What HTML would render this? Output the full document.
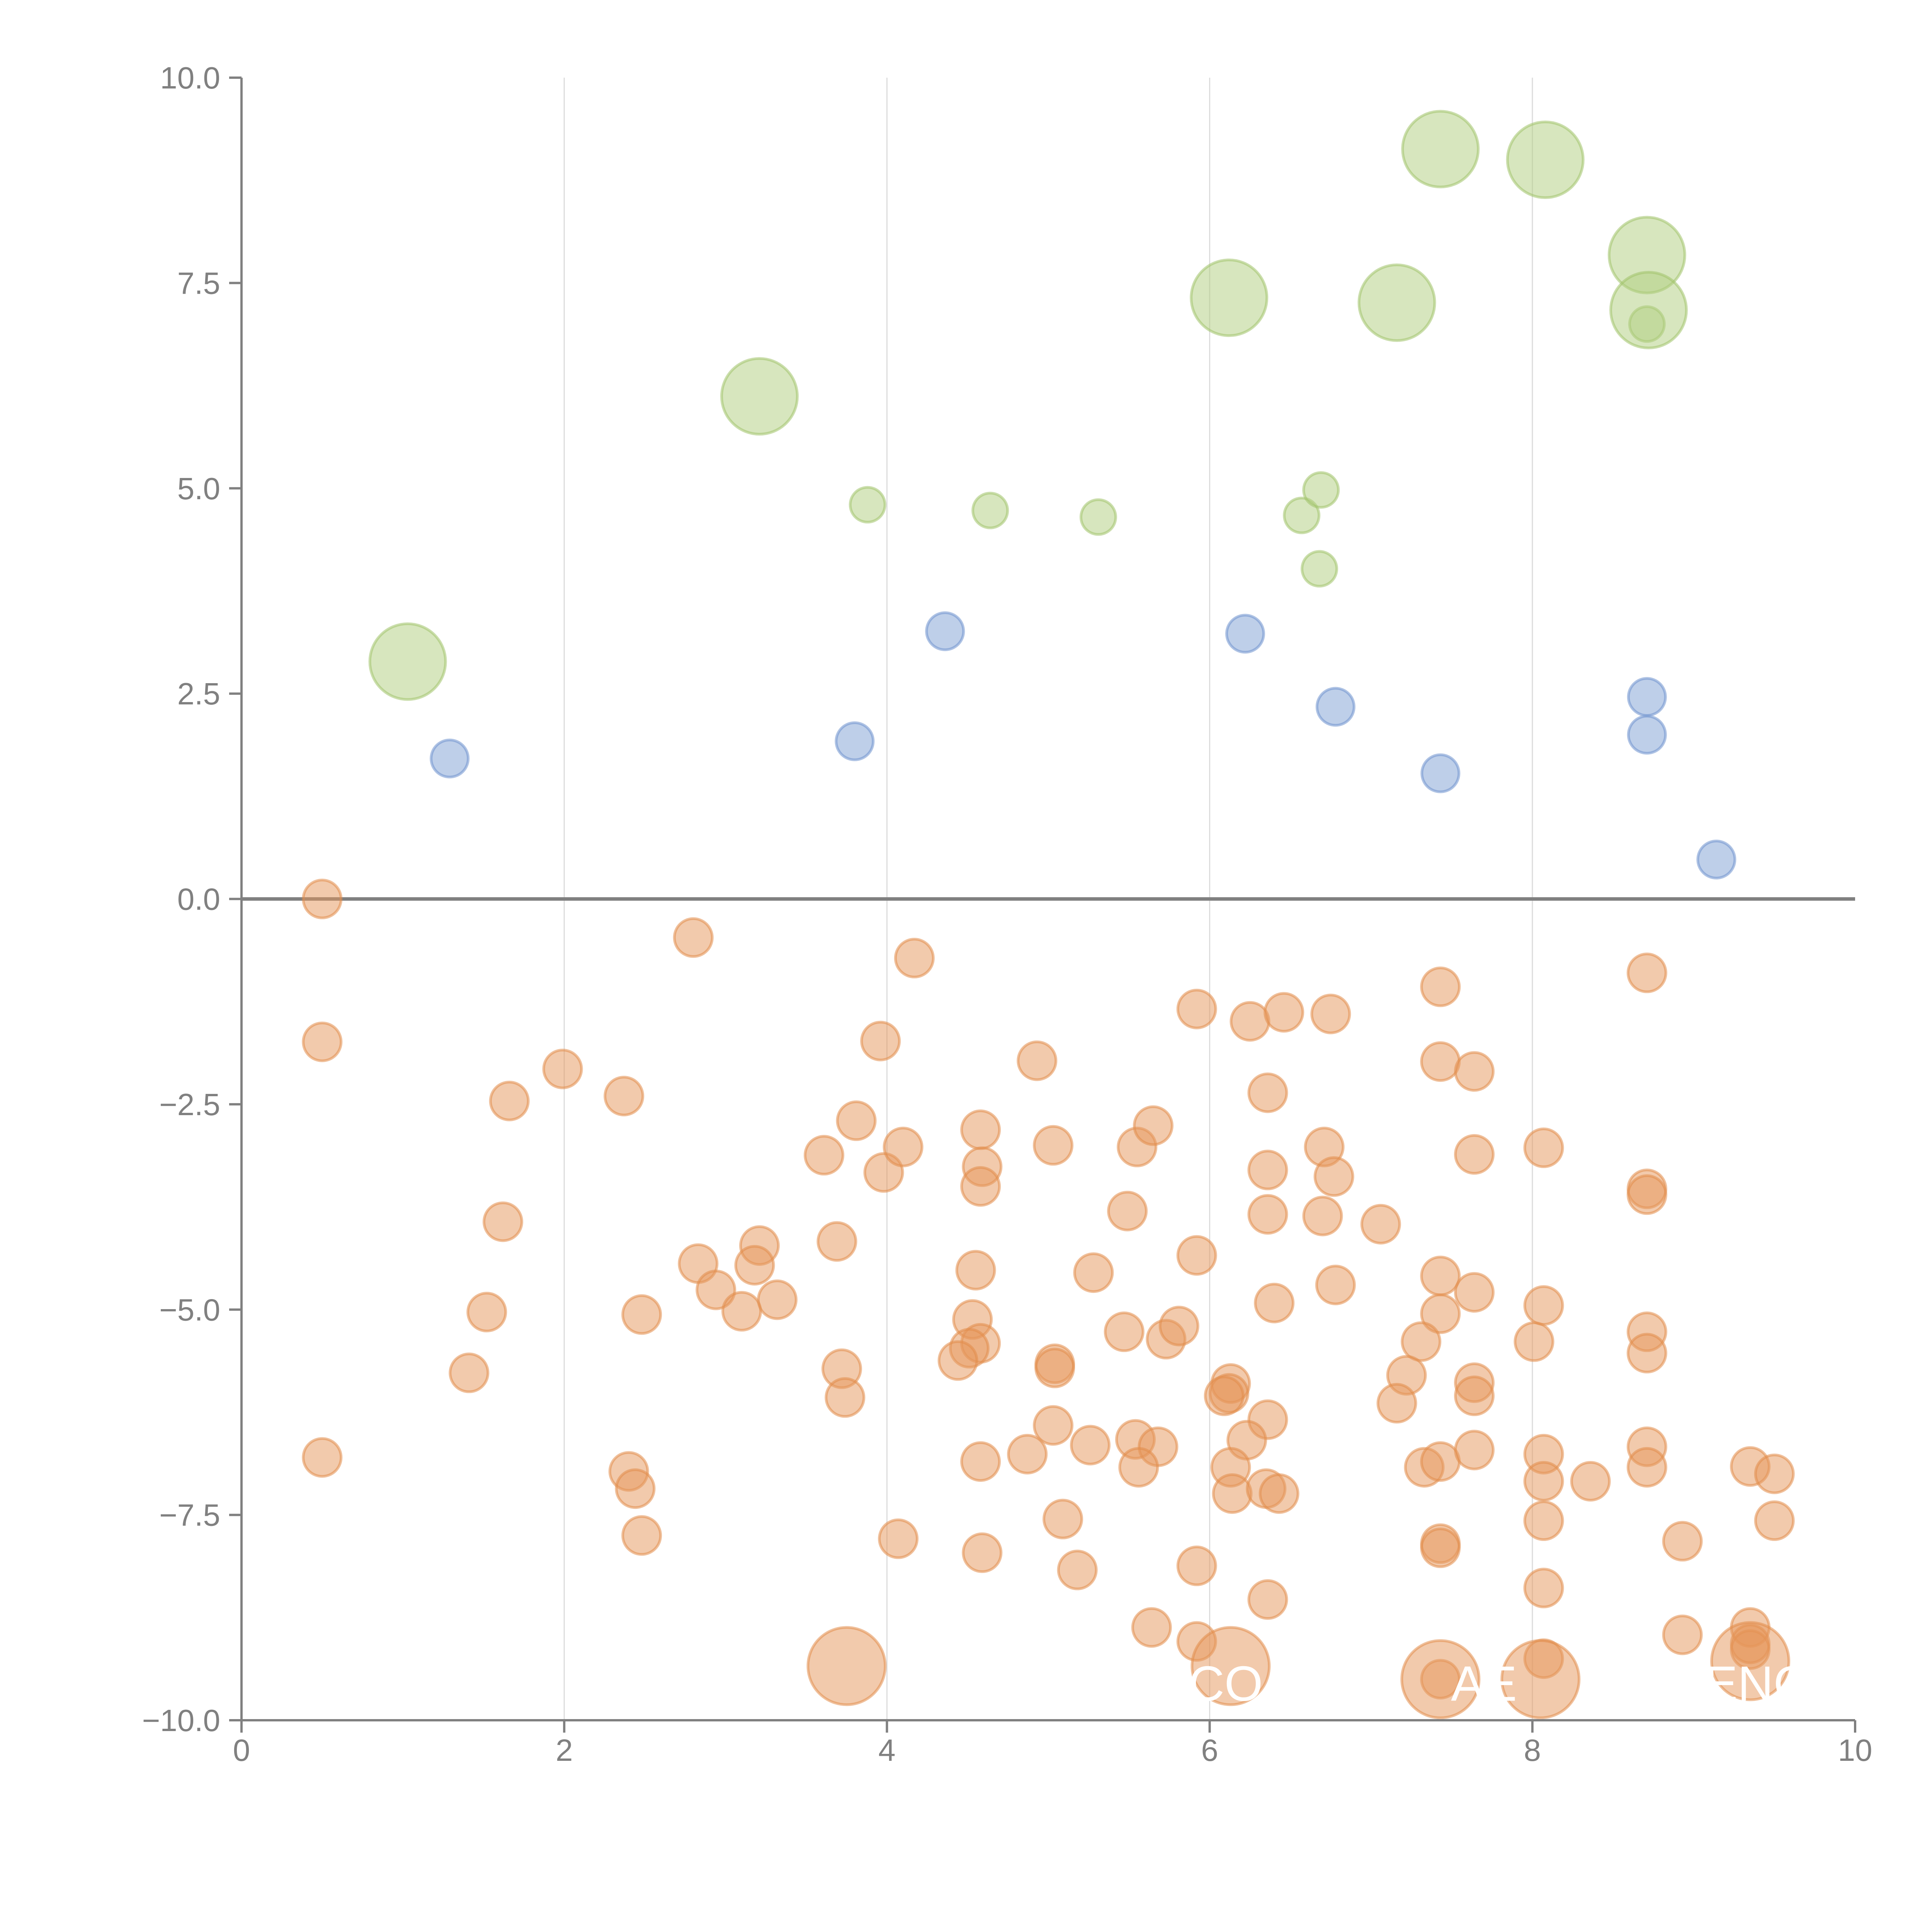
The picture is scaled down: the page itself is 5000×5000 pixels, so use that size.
<!DOCTYPE html>
<html><head><meta charset="utf-8"><style>
html,body{margin:0;padding:0;background:#fff;}
svg{display:block;font-family:"Liberation Sans",sans-serif;}
</style></head><body>
<svg id="chart" width="5000" height="5000" viewBox="0 0 5000 5000">
<g id="grid"></g>
<g id="axes"></g>
<g id="marks"></g>
<g id="labels"></g>
</svg>
<script>
const xTicks = [0, 2, 4, 6, 8, 10];
const yTicks = [10, 7.5, 5, 2.5, 0, -2.5, -5, -7.5, -10];
const yTickLabels = ["10.0","7.5","5.0","2.5","0.0","\u22122.5","\u22125.0","\u22127.5","\u221210.0"];
const greenX = [3.88,4.64,5.31,6.57,6.69,6.68,8.71, 1.03,3.21,6.12,7.16,7.43,8.08,8.71,8.72];
const greenY = [4.8,4.73,4.65,4.67,4.98,4.02,7.0, 2.89,6.12,7.32,7.26,9.13,9.0,7.84,7.17];
const greenR = [45,45,45,45,45,45,45, 98,98,98,98,98,98,98,98];
const blueX = [1.29,3.8,4.36,6.22,6.78,7.43,8.71,8.71,9.14];
const blueY = [1.71,1.92,3.26,3.23,2.34,1.53,2.46,2.0,0.48];
const orangeX = [0.5,2.8,4.17,0.5,1.99,1.66,2.37,3.96,4.93,5.92,6.25,6.46,6.75,7.43,7.43,7.64,8.71,3.81,3.61,3.98,4.1,4.58,4.59,4.58,5.03,5.55,5.65,6.36,6.36,6.71,6.77,7.64,8.07,8.71,8.71,1.62,3.69,3.21,2.83,3.18,2.94,3.32,3.1,1.52,2.48,1.41,3.72,3.74,4.55,4.53,4.58,4.51,4.44,5.04,5.04,5.28,5.49,5.92,5.47,5.73,5.81,6.36,6.4,6.7,6.78,7.06,7.43,7.43,7.64,7.31,7.22,7.16,7.64,7.64,8.01,8.07,8.71,8.71,6.13,6.12,6.09,6.36,6.23,6.13,6.14,6.35,6.43,5.03,5.26,5.54,5.68,5.56,4.87,4.58,5.09,5.18,5.92,4.07,4.59,2.4,2.44,2.48,0.5,7.33,7.43,7.64,7.43,7.43,8.07,8.07,8.36,8.07,8.07,8.71,8.71,8.93,9.35,9.5,9.5,5.64,5.92,6.36,8.93,9.35,9.35,9.35,8.07,7.43];
const orangeY = [0,-0.47,-0.72,-1.74,-2.07,-2.46,-2.4,-1.73,-1.97,-1.34,-1.49,-1.38,-1.4,-1.07,-1.98,-2.1,-0.9,-2.7,-3.12,-3.33,-3.02,-2.81,-3.26,-3.5,-3.0,-3.02,-2.76,-2.36,-3.3,-3.02,-3.38,-3.11,-3.03,-3.53,-3.6,-3.93,-4.17,-4.22,-4.44,-4.46,-4.76,-4.88,-5.02,-5.03,-5.06,-5.77,-5.72,-6.07,-4.52,-5.12,-5.41,-5.47,-5.62,-5.66,-5.71,-4.55,-3.8,-4.34,-5.27,-5.36,-5.2,-3.84,-4.92,-3.86,-4.7,-3.96,-4.59,-5.05,-4.79,-5.39,-5.8,-6.14,-5.89,-6.05,-5.39,-4.95,-5.27,-5.53,-5.9,-6.02,-6.05,-6.34,-6.59,-6.92,-7.24,-7.18,-7.24,-6.41,-6.65,-6.58,-6.67,-6.92,-6.76,-6.85,-7.55,-8.17,-8.12,-7.79,-7.96,-6.97,-7.18,-7.75,-6.8,-6.92,-6.85,-6.71,-7.85,-7.9,-6.76,-7.09,-7.09,-7.57,-8.39,-6.67,-6.92,-7.82,-6.91,-7.0,-7.57,-8.87,-9.04,-8.53,-8.96,-8.87,-9.07,-9.14,-9.25,-9.5];
const bigOrangeX = [3.75,6.13,7.43,8.05,9.35];
const bigOrangeY = [-9.34,-9.34,-9.5,-9.5,-9.28];
const wordLabels = ["CO","AE","ENG"];
const wordX = [6.1,7.7,9.4];
const wordY = [-9.55,-9.55,-9.55];

const X0=625, X1=4801, Y0=201, Y1=4452;
const sx = v => X0 + (v-0)/(10-0)*(X1-X0);
const sy = v => Y0 + (10-v)/(20)*(Y1-Y0);
const NS="http://www.w3.org/2000/svg";
function mk(tag, attrs, parent){const e=document.createElementNS(NS,tag);for(const k in attrs)e.setAttribute(k,attrs[k]);parent.appendChild(e);return e;}
const grid=document.getElementById('grid'), axes=document.getElementById('axes'), marks=document.getElementById('marks'), labels=document.getElementById('labels');

xTicks.forEach(t=>{
  if(t>0&&t<10){
    const g=mk('line',{x1:sx(t),x2:sx(t),y1:Y0,y2:Y1,stroke:'#dcdcdc','stroke-width':3},grid);
    
    
  }
  const tk=mk('line',{x1:sx(t),x2:sx(t),y1:Y1,y2:Y1+32,stroke:'#808080','stroke-width':6},axes);
  
  
  const tl=mk('text',{x:sx(t),y:Y1+105,'text-anchor':'middle','font-size':80,fill:'#808080'},axes);
  tl.textContent=String(t);
  
  
});
yTicks.forEach((t,i)=>{
  const tk=mk('line',{x1:X0-32,x2:X0,y1:sy(t),y2:sy(t),stroke:'#808080','stroke-width':6},axes);
  
  
  const tl=mk('text',{x:X0-55,y:sy(t)+28,'text-anchor':'end','font-size':80,fill:'#808080'},axes);
  tl.textContent=yTickLabels[i];
  
  
});
const ya=mk('line',{x1:X0,x2:X0,y1:Y0,y2:Y1,stroke:'#808080','stroke-width':6},axes);


const xa=mk('line',{x1:X0,x2:X1,y1:Y1,y2:Y1,stroke:'#808080','stroke-width':6},axes);


const zl=mk('line',{x1:X0,x2:X1,y1:sy(0),y2:sy(0),stroke:'#808080','stroke-width':9},axes);



function bubble(x,y,r,fill,stroke,name){
  const c=mk('circle',{cx:sx(x),cy:sy(y),r:r,fill:fill,stroke:stroke,'stroke-width':7},marks);
  
  
}
orangeX.forEach((x,i)=>bubble(x,orangeY[i],49,'rgba(230,150,90,0.5)','rgba(225,140,75,0.55)','orange-bubble'));
bigOrangeX.forEach((x,i)=>bubble(x,bigOrangeY[i],100,'rgba(230,150,90,0.5)','rgba(225,140,75,0.55)','orange-bubble-large'));
blueX.forEach((x,i)=>bubble(x,blueY[i],48,'rgba(125,160,212,0.5)','rgba(110,145,205,0.55)','blue-bubble'));
greenX.forEach((x,i)=>bubble(x,greenY[i],greenR[i],'rgba(175,205,125,0.5)','rgba(160,195,105,0.55)','green-bubble'));

wordLabels.forEach((w,i)=>{
  const t=mk('text',{x:sx(wordX[i]),y:sy(wordY[i])+45,'text-anchor':'middle','font-size':128,fill:'#ffffff'},labels);
  t.textContent=w;
  
  
});
</script>
</body></html>
